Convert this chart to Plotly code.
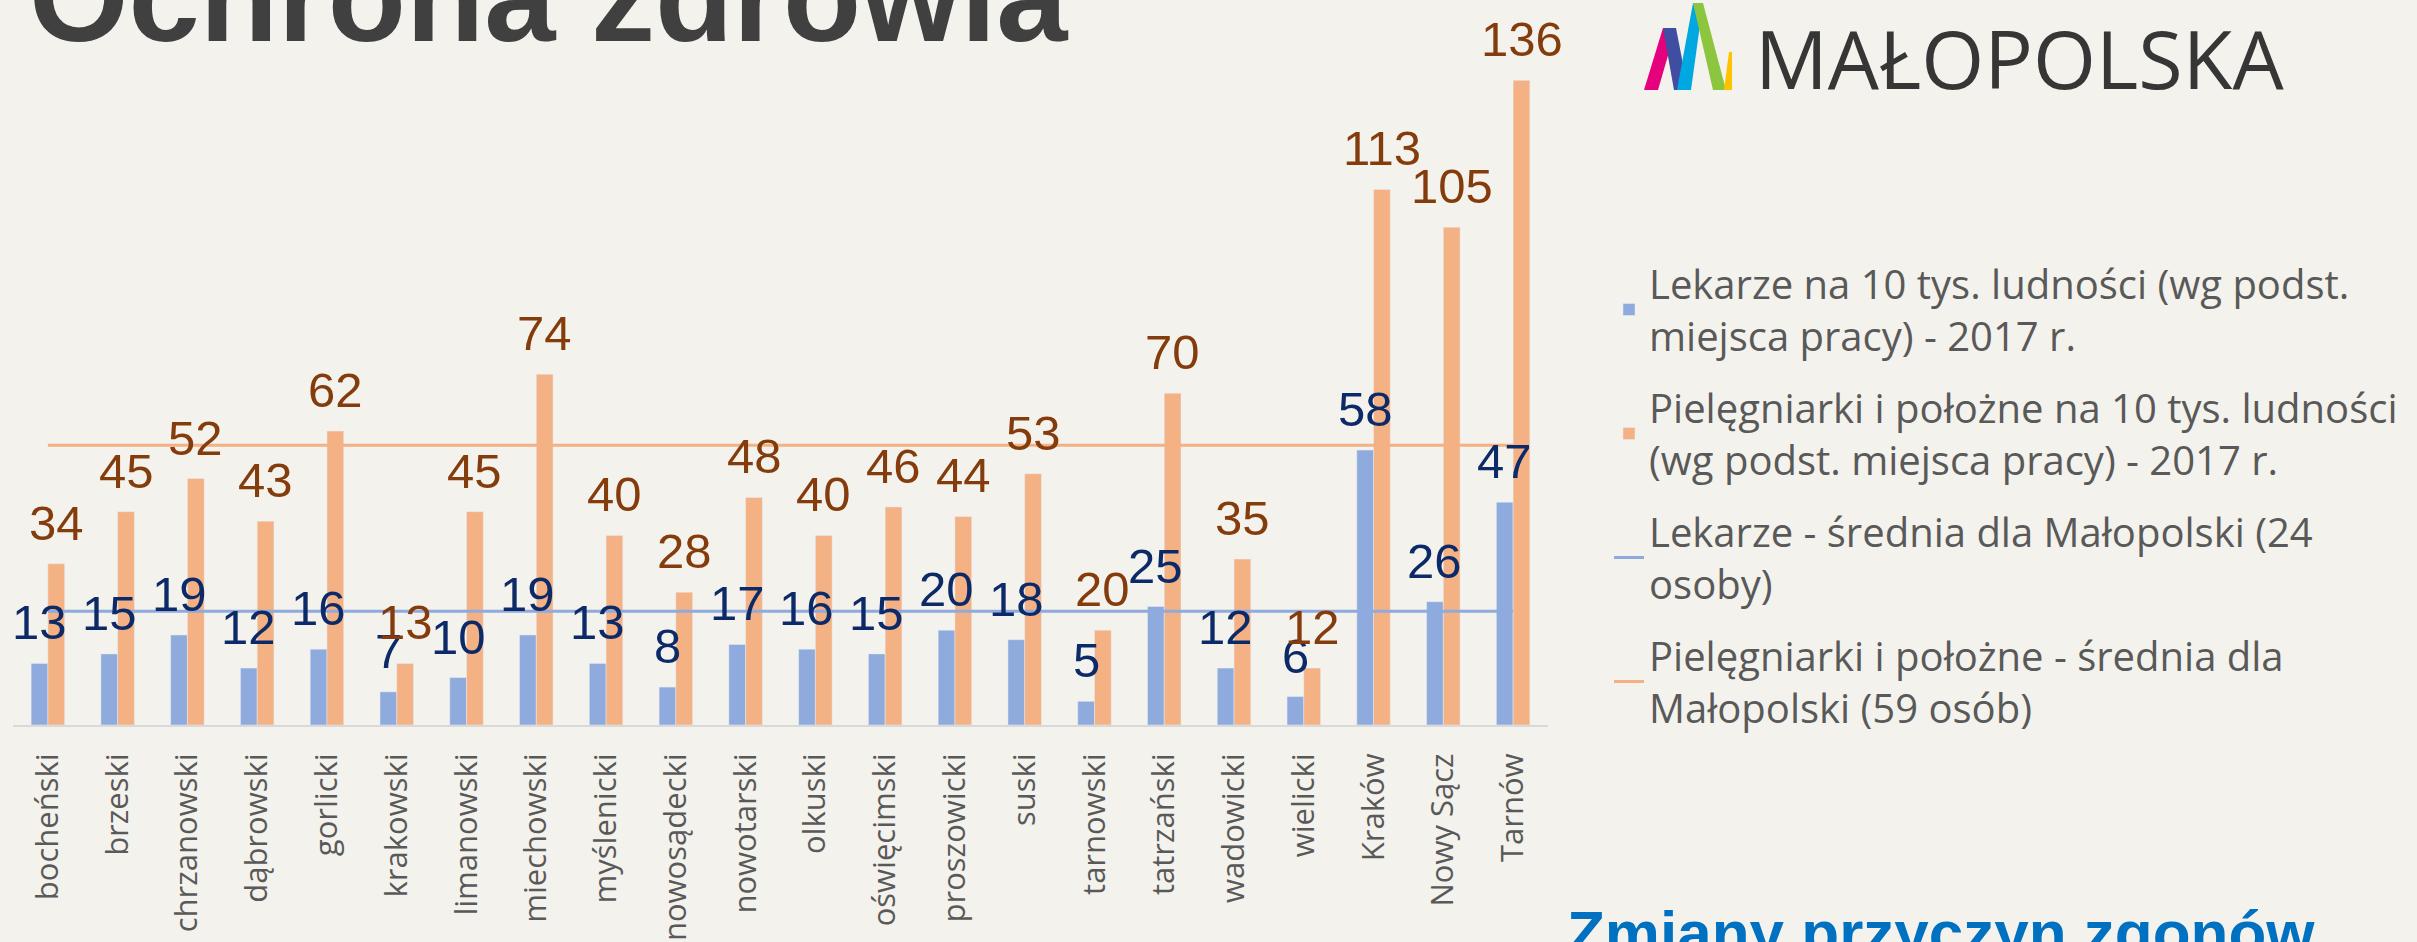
import plotly.graph_objects as go

# ---------------- data ----------------
categories = ["bocheński", "brzeski", "chrzanowski", "dąbrowski", "gorlicki",
              "krakowski", "limanowski", "miechowski", "myślenicki", "nowosądecki",
              "nowotarski", "olkuski", "oświęcimski", "proszowicki", "suski",
              "tarnowski", "tatrzański", "wadowicki", "wielicki", "Kraków",
              "Nowy Sącz", "Tarnów"]
lekarze = [13, 15, 19, 12, 16, 7, 10, 19, 13, 8, 17, 16, 15, 20, 18, 5, 25, 12, 6, 58, 26, 47]
pielegniarki = [34, 45, 52, 43, 62, 13, 45, 74, 40, 28, 48, 40, 46, 44, 53, 20, 70, 35, 12, 113, 105, 136]
avg_lekarze = 24
avg_pielegniarki = 59

names = [
    "Lekarze na 10 tys. ludności (wg podst.<br>miejsca pracy) - 2017 r.",
    "Pielęgniarki i położne na 10 tys. ludności<br>(wg podst. miejsca pracy) - 2017 r.",
    "Lekarze - średnia dla Małopolski (24<br>osoby)",
    "Pielęgniarki i położne - średnia dla<br>Małopolski (59 osób)",
]

# ---------------- styles ----------------
BLUE = "#8FAADC"
ORANGE = "#F4B183"
NAVY = "#0D2A68"
BROWN = "#843C0C"
BG = "#F4F2EC"
GRAY = "#595959"
NUM_FONT = "Liberation Sans Narrow, Arial Narrow, Liberation Sans, Arial"

W, H = 2417, 942
ML, MR, MT, MB = 13, 869, 14, 217
PW = W - ML - MR
PH = H - MT - MB


def px(x):
    return (x - ML) / PW


def py(y):
    return (H - MB - y) / PH


fig = go.Figure()
fig.add_trace(go.Bar(x=categories, y=lekarze, name=names[0], marker_color=BLUE,
                     legendgroup="a"))
fig.add_trace(go.Bar(x=categories, y=pielegniarki, name=names[1], marker_color=ORANGE,
                     legendgroup="b"))
fig.add_trace(go.Scatter(x=categories, y=[avg_lekarze] * len(categories), mode="lines",
                         line=dict(color=BLUE, width=3), name=names[2], legendgroup="c"))
fig.add_trace(go.Scatter(x=categories, y=[avg_pielegniarki] * len(categories), mode="lines",
                         line=dict(color=ORANGE, width=3), name=names[3], legendgroup="d"))

annotations = []
# data labels
for c, v in zip(categories, lekarze):
    annotations.append(dict(x=c, y=v, xref="x", yref="y", text=str(v), showarrow=False,
                            xanchor="center", yanchor="bottom", xshift=-8.4, yshift=12,
                            font=dict(family=NUM_FONT, size=49, color=NAVY)))
for c, v in zip(categories, pielegniarki):
    annotations.append(dict(x=c, y=v, xref="x", yref="y", text=str(v), showarrow=False,
                            xanchor="center", yanchor="bottom", xshift=8.4, yshift=12,
                            font=dict(family=NUM_FONT, size=49, color=BROWN)))

# slide texts
annotations.append(dict(x=px(27), y=py(70), xref="paper", yref="paper", text="Ochrona zdrowia",
                        showarrow=False, xanchor="left", yanchor="bottom",
                        font=dict(family="Liberation Sans, Arial", size=128, color="#404040",
                                  weight="bold")))
annotations.append(dict(x=px(1753), y=py(115), xref="paper", yref="paper", text="MAŁOPOLSKA",
                        showarrow=False, xanchor="left", yanchor="bottom",
                        font=dict(family="Open Sans", size=81, color="#363636")))
annotations.append(dict(x=px(1565), y=py(896), xref="paper", yref="paper",
                        text="Zmiany przyczyn zgonów", showarrow=False,
                        xanchor="left", yanchor="top",
                        font=dict(family="Liberation Sans, Arial", size=62, color="#0070C0",
                                  weight="bold")))

# logo mark
logo = [
    ("#E5007E", [(1644, 90), (1658, 90), (1676, 28), (1663, 28)]),
    ("#3F4EA1", [(1663, 28), (1676, 28), (1688, 90), (1674, 90)]),
    ("#00A8E1", [(1677, 90), (1691, 90), (1703, 3), (1693, 3)]),
    ("#8CC63F", [(1693, 3), (1703, 3), (1726, 90), (1713, 90)]),
    ("#FDC300", [(1724, 90), (1732, 90), (1732, 52), (1729, 52)]),
]
shapes = []
for col, pts in logo:
    path = "M " + " L ".join(f"{px(x):.5f},{py(y):.5f}" for x, y in pts) + " Z"
    shapes.append(dict(type="path", path=path, xref="paper", yref="paper",
                       fillcolor=col, line=dict(width=0), layer="above"))

fig.update_layout(
    width=W, height=H, autosize=False,
    margin=dict(l=ML, r=MR, t=MT, b=MB, pad=0, autoexpand=False),
    paper_bgcolor=BG, plot_bgcolor=BG,
    barmode="group", bargap=0.52, bargroupgap=0,
    showlegend=True,
    legend=dict(x=px(1609), y=py(251), xanchor="left", yanchor="top",
                font=dict(family="Open Sans", size=40, color=GRAY),
                bgcolor="rgba(0,0,0,0)", borderwidth=0, tracegroupgap=17,
                traceorder="grouped"),
    xaxis=dict(showline=True, linecolor="#D9D9D9", linewidth=2, ticks="",
               tickangle=-90, tickfont=dict(family="Open Sans", size=31, color=GRAY),
               ticklabelstandoff=14, showgrid=False, zeroline=False, automargin=False,
               range=[-0.5, len(categories) - 0.5]),
    yaxis=dict(range=[0, 150], visible=False, showgrid=False, zeroline=False,
               automargin=False),
    annotations=annotations,
    shapes=shapes,
)

fig.write_html("out.html")
